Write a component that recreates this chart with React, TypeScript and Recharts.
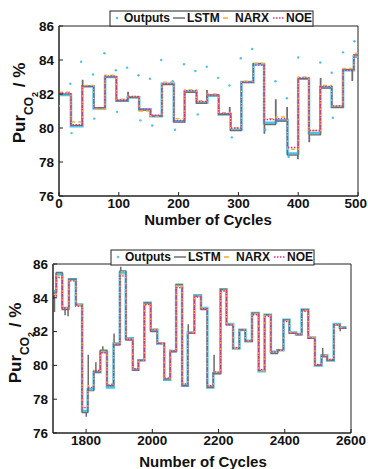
import {
  ComposedChart,
  Line,
  Scatter,
  XAxis,
  YAxis,
  ReferenceArea,
} from "recharts";

const FONT = '"Liberation Sans", Arial, Helvetica, sans-serif';
const CYAN = "#4fc0e8";
const GRAY = "#6e6e6e";
const ORANGE = "#f2b233";
const MAGENTA = "#e6289a";
const AXIS = "#222";
const TICK_FONT = 13.5;

// ---- upper panel: cycles 0-500 ----
const topCycles = [0, 20, 39, 58, 77, 96, 115, 134, 153, 172, 192, 210, 230, 248, 267, 287, 305, 325, 343, 363, 382, 400, 418, 437, 456, 475, 493, 500];
const outTop = [81.95, 80.1, 82.45, 81.15, 83.0, 81.6, 81.8, 81.1, 80.7, 82.6, 80.4, 82.15, 81.5, 81.9, 80.8, 79.9, 82.7, 83.75, 80.3, 80.45, 78.5, 82.9, 79.7, 82.4, 81.25, 83.4, 84.2, 84.2];
const lstmTop = [82.0, 80.15, 82.45, 81.2, 83.0, 81.6, 81.8, 81.05, 80.7, 82.55, 80.35, 82.1, 81.45, 81.95, 80.8, 79.85, 82.7, 83.8, 80.2, 80.4, 78.4, 82.9, 79.6, 82.35, 81.2, 83.45, 84.3, 84.3];
const narxTop = [82.1, 80.35, 82.5, 81.1, 83.1, 81.7, 81.85, 81.0, 80.7, 82.7, 80.55, 82.25, 81.6, 82.0, 80.9, 80.0, 82.75, 83.8, 80.55, 80.65, 78.75, 83.0, 79.85, 82.5, 81.3, 83.5, 84.4, 84.4];
const noeTop = [82.05, 80.2, 82.45, 81.2, 83.05, 81.65, 81.85, 81.1, 80.75, 82.6, 80.45, 82.2, 81.55, 81.95, 80.85, 80.0, 82.7, 83.7, 80.5, 80.55, 78.85, 82.95, 79.85, 82.45, 81.3, 83.4, 84.3, 84.3];
const lstmTopSpikes: [number, number][] = [[39, 82.8], [115, 82.1], [247, 82.2], [285, 81.2], [343, 79.7], [362, 81.65], [381, 81.2], [399, 78.2], [418, 79.2], [437, 82.9], [490, 82.8]];
const outTopScatter: [number, number][] = [
  [0, 81.3], [19, 82.6], [37, 83.9], [57, 83.15], [76, 84.4], [95, 83.4], [114, 83.55], [133, 83.1], [152, 82.9], [171, 84.0], [190, 82.75],
  [209, 83.75], [228, 83.35], [247, 83.6], [266, 82.95], [285, 82.5], [304, 84.1], [323, 84.65], [362, 82.75], [381, 81.75], [400, 84.15],
  [437, 83.85], [456, 83.25], [475, 84.45], [494, 85.1],
  [21, 79.7], [59, 80.55], [97, 80.95], [136, 80.45], [156, 80.15], [194, 79.9], [232, 80.8], [289, 79.45], [345, 79.9], [384, 78.3], [458, 80.6],
];
const topTicks = [0, 100, 200, 300, 400, 500];

// ---- lower panel: cycles 1700-2600 ----
const botCycles = [1700, 1710, 1728, 1748, 1769, 1788, 1805, 1823, 1843, 1863, 1883, 1902, 1920, 1941, 1958, 1976, 1995, 2015, 2036, 2054, 2072, 2090, 2107, 2127, 2147, 2166, 2184, 2206, 2224, 2244, 2263, 2281, 2301, 2321, 2339, 2358, 2378, 2396, 2414, 2434, 2451, 2471, 2491, 2511, 2528, 2548, 2566, 2586];
const outBot = [84.4, 85.4, 83.4, 85.1, 83.6, 77.3, 78.6, 79.6, 80.8, 78.7, 81.3, 85.5, 81.6, 79.75, 80.3, 83.7, 82.1, 81.3, 79.15, 80.85, 84.75, 78.8, 81.95, 84.15, 83.4, 78.7, 79.55, 84.5, 82.45, 81.0, 82.1, 81.45, 83.1, 79.65, 83.0, 80.8, 80.9, 82.7, 81.95, 81.85, 83.3, 81.65, 80.0, 80.6, 80.3, 82.45, 82.25, 82.25];
const lstmBot = [84.3, 85.5, 83.3, 85.1, 83.6, 77.2, 78.5, 79.6, 80.9, 78.8, 81.2, 85.6, 81.5, 79.7, 80.3, 83.7, 82.0, 81.3, 79.2, 80.8, 84.8, 78.8, 81.9, 84.1, 83.3, 78.7, 79.5, 84.5, 82.4, 81.0, 82.1, 81.4, 83.1, 79.7, 83.0, 80.7, 80.9, 82.7, 81.9, 81.8, 83.3, 81.6, 80.0, 80.5, 80.3, 82.4, 82.2, 82.2];
const narxBot = [84.2, 85.3, 83.4, 85.0, 83.6, 77.5, 78.8, 79.7, 80.8, 78.9, 81.3, 85.4, 81.6, 79.8, 80.3, 83.6, 82.15, 81.3, 79.25, 80.9, 84.7, 78.9, 81.95, 84.1, 83.4, 78.8, 79.6, 84.45, 82.45, 81.0, 82.1, 81.45, 83.05, 79.7, 82.95, 80.8, 80.9, 82.65, 81.95, 81.85, 83.25, 81.65, 80.05, 80.6, 80.35, 82.4, 82.25, 82.25];
const noeBot = [84.1, 85.2, 83.4, 85.0, 83.5, 77.5, 78.7, 79.7, 80.75, 78.85, 81.25, 85.3, 81.55, 79.8, 80.3, 83.6, 82.1, 81.3, 79.25, 80.85, 84.6, 78.9, 81.9, 84.05, 83.35, 78.8, 79.6, 84.4, 82.4, 81.05, 82.1, 81.45, 83.0, 79.75, 82.9, 80.8, 80.9, 82.6, 81.9, 81.85, 83.2, 81.6, 80.05, 80.55, 80.35, 82.4, 82.2, 82.2];
const lstmBotSpikes: [number, number][] = [[1704, 83.2], [1736, 83.0], [1745, 82.95], [1800, 77.0], [1806, 80.6], [1829, 80.15], [1850, 81.1], [1884, 81.85], [1904, 85.8], [2108, 82.4], [2186, 80.6], [2514, 81.0], [2567, 82.05]];
const botTicks = [1800, 2000, 2200, 2400, 2600];

const yTicks = [76, 78, 80, 82, 84, 86];

type Pt = { x: number; y: number };

function steps(cycles: number[], levels: number[]): Pt[] {
  return cycles.map((x, i) => ({ x, y: levels[i] }));
}

function withSpikes(cycles: number[], levels: number[], spikes: [number, number][]): Pt[] {
  const pts = steps(cycles, levels);
  spikes.forEach(([c, v]) => {
    let k = 0;
    while (k + 1 < cycles.length && cycles[k + 1] <= c + 1) k++;
    pts.push({ x: c, y: v }, { x: c + 1, y: levels[k] });
  });
  return pts.sort((a, b) => a.x - b.x);
}

const labelProps = { fill: "#111", fontSize: TICK_FONT, fontWeight: 700, fontFamily: FONT };

// MATLAB style: tick marks point into the box, labels outside
function XTick(props: any) {
  const { x, y, payload } = props;
  const half = (String(payload.value).length * 0.556 * TICK_FONT) / 2;
  const tx = Math.min(x, 367 - half);
  return (
    <g>
      <line x1={x} x2={x} y1={y} y2={y - 4} stroke={AXIS} strokeWidth={1} />
      <text x={tx} y={y + 2} dy="0.71em" textAnchor="middle" {...labelProps}>
        {payload.value}
      </text>
    </g>
  );
}

function YTick(props: any) {
  const { x, y, payload } = props;
  return (
    <g>
      <line x1={x} x2={x + 4} y1={y} y2={y} stroke={AXIS} strokeWidth={1} />
      <text x={x - 5} y={y} dy="0.355em" textAnchor="end" {...labelProps}>
        {payload.value}
      </text>
    </g>
  );
}

function Dot(props: any) {
  return <circle cx={props.cx} cy={props.cy} r={1.2} fill={CYAN} />;
}

interface PanelProps {
  width: number;
  height: number;
  margin: { top: number; right: number; bottom: number; left: number };
  domain: [number, number];
  ticks: number[];
  out: Pt[];
  lstm: Pt[];
  narx: Pt[];
  noe: Pt[];
  scatter?: Pt[];
}

function Panel(p: PanelProps) {
  return (
    <ComposedChart width={p.width} height={p.height} margin={p.margin}>
      <XAxis
        type="number"
        dataKey="x"
        domain={p.domain}
        ticks={p.ticks}
        allowDataOverflow
        height={20}
        tick={<XTick />}
        tickSize={0}
        tickMargin={0}
        tickLine={false}
        axisLine={{ stroke: AXIS }}
        interval={0}
      />
      <YAxis
        type="number"
        domain={[76, 86]}
        ticks={yTicks}
        allowDataOverflow
        width={30}
        tick={<YTick />}
        tickSize={0}
        tickMargin={0}
        tickLine={false}
        axisLine={{ stroke: AXIS }}
        interval={0}
      />
      <Line data={p.out} dataKey="y" type="stepAfter" stroke={CYAN} strokeWidth={2.6} dot={false} activeDot={false} isAnimationActive={false} />
      {p.scatter && <Scatter data={p.scatter} dataKey="y" shape={Dot} isAnimationActive={false} />}
      <Line data={p.lstm} dataKey="y" type="stepAfter" stroke={GRAY} strokeWidth={1.2} dot={false} activeDot={false} isAnimationActive={false} />
      <Line data={p.narx} dataKey="y" type="stepAfter" stroke={ORANGE} strokeWidth={1.4} strokeDasharray="4 3" dot={false} activeDot={false} isAnimationActive={false} />
      <Line data={p.noe} dataKey="y" type="stepAfter" stroke={MAGENTA} strokeWidth={1.4} strokeDasharray="1.5 1.5" dot={false} activeDot={false} isAnimationActive={false} />
      <ReferenceArea x1={p.domain[0]} x2={p.domain[1]} y1={76} y2={86} stroke={AXIS} strokeWidth={1} fill="none" fillOpacity={0} ifOverflow="visible" />
    </ComposedChart>
  );
}

function LegendBox({ x, y }: { x: number; y: number }) {
  const base = y + 11;
  const mid = y + 7;
  const t = { fontSize: 12, fontWeight: 700, fontFamily: FONT, fill: "#111" };
  return (
    <g>
      <rect x={x} y={y} width={203} height={15} fill="#fff" stroke={AXIS} strokeWidth={1} />
      <circle cx={x + 7} cy={mid} r={1.2} fill={CYAN} />
      <text x={x + 14} y={base} {...t}>Outputs</text>
      <line x1={x + 63} x2={x + 75} y1={mid} y2={mid} stroke={GRAY} strokeWidth={1.5} />
      <text x={x + 77} y={base} {...t}>LSTM</text>
      <line x1={x + 113} x2={x + 118} y1={mid} y2={mid} stroke={ORANGE} strokeWidth={1.6} />
      <text x={x + 125} y={base} {...t}>NARX</text>
      <line x1={x + 163} x2={x + 175} y1={mid} y2={mid} stroke={MAGENTA} strokeWidth={1.5} strokeDasharray="1.5 1.5" />
      <text x={x + 176} y={base} {...t}>NOE</text>
    </g>
  );
}

function YTitle({ x, y }: { x: number; y: number }) {
  return (
    <text
      x={x}
      y={y}
      transform={`rotate(-90 ${x} ${y})`}
      textAnchor="middle"
      fontFamily={FONT}
      fontWeight={700}
      fontSize={17}
      fill="#111"
    >
      Pur
      <tspan fontSize={12} dy={8}>CO</tspan>
      <tspan fontSize={9} dy={5}>2</tspan>
      <tspan fontSize={17} dy={-13}> / %</tspan>
    </text>
  );
}

export default function App() {
  return (
    <div style={{ position: "absolute", left: 0, top: 0, width: 368, height: 469, background: "#fff", overflow: "hidden" }}>
      <div style={{ position: "absolute", left: 0, top: 0 }}>
        <Panel
          width={368}
          height={232}
          margin={{ top: 26, right: 10, bottom: 16, left: 29 }}
          domain={[0, 500]}
          ticks={topTicks}
          out={steps(topCycles, outTop)}
          lstm={withSpikes(topCycles, lstmTop, lstmTopSpikes)}
          narx={steps(topCycles, narxTop)}
          noe={steps(topCycles, noeTop)}
          scatter={outTopScatter.map(([x, y]) => ({ x, y }))}
        />
      </div>
      <div style={{ position: "absolute", left: 0, top: 232 }}>
        <Panel
          width={368}
          height={237}
          margin={{ top: 32, right: 17, bottom: 16, left: 23 }}
          domain={[1700, 2600]}
          ticks={botTicks}
          out={steps(botCycles, outBot)}
          lstm={withSpikes(botCycles, lstmBot, lstmBotSpikes)}
          narx={steps(botCycles, narxBot)}
          noe={steps(botCycles, noeBot)}
        />
      </div>
      <svg width={368} height={469} style={{ position: "absolute", left: 0, top: 0, pointerEvents: "none" }}>
        <LegendBox x={110} y={11} />
        <LegendBox x={111} y={250} />
        <YTitle x={25} y={103} />
        <YTitle x={21} y={343} />
        <text x={208} y={225} textAnchor="middle" fontFamily={FONT} fontWeight={700} fontSize={15} fill="#111">
          Number of Cycles
        </text>
        <text x={203} y={467} textAnchor="middle" fontFamily={FONT} fontWeight={700} fontSize={15} fill="#111">
          Number of Cycles
        </text>
      </svg>
    </div>
  );
}
